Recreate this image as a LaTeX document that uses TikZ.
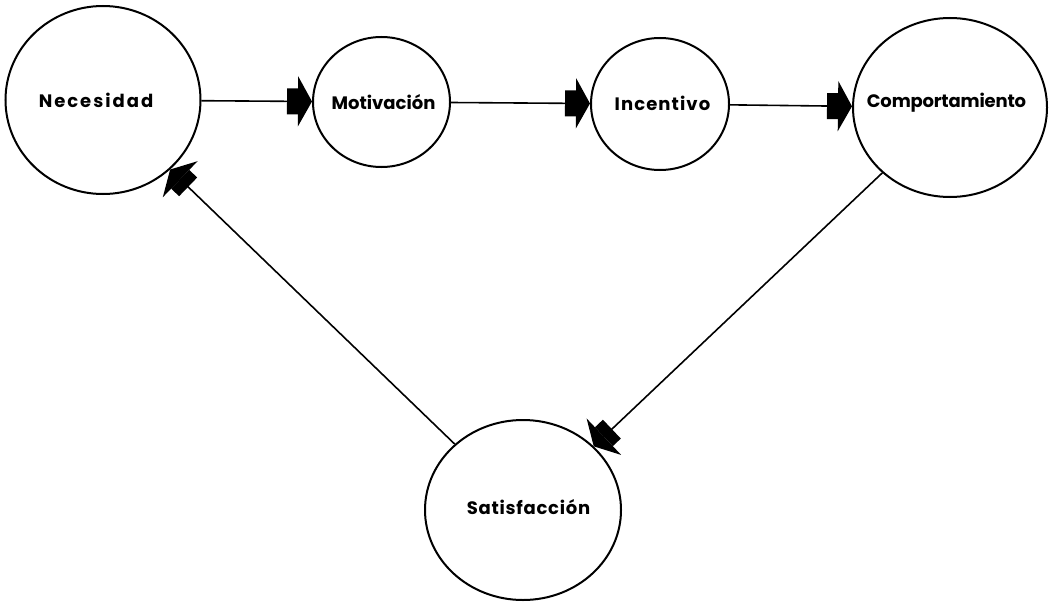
\documentclass[tikz,border=0pt]{standalone}
\usepackage{fontspec}
\setmainfont{Poppins}
\usetikzlibrary{shapes.geometric,arrows.meta}
\begin{document}
\begin{tikzpicture}[x=1pt,y=-1pt,
  bubble/.style n args={2}{draw,ellipse,line width=2pt,inner sep=0pt,minimum width=#1,minimum height=#2},
  lbl/.style={inner sep=0pt,font=\fontsize{18}{20}\selectfont\bfseries},
  flow/.style={line width=1.6pt,-{Rectangle[length=11pt,width=26pt,sep=0pt]Triangle[length=14pt,width=50pt]}}
]
\useasboundingbox (0,0) rectangle (1056,602);
\node[bubble={195pt}{188pt}] (nec) at (103,100) {};
\node[bubble={137pt}{130pt}] (mot) at (381.5,102) {};
\node[bubble={138pt}{132pt}] (inc) at (660,104) {};
\node[bubble={194pt}{179pt}] (comp) at (950,107.5) {};
\node[bubble={196pt}{180pt}] (sat) at (523,510) {};
\node[lbl] (tnec) at (96,100) {\addfontfeature{LetterSpace=11}Necesidad};
\node[lbl] (tmot) at (383.5,102) {Motivación};
\node[lbl] (tinc) at (662.5,103) {\addfontfeature{LetterSpace=6}Incentivo};
\node[lbl] (tcomp) at (946.5,103) {\addfontfeature{LetterSpace=-1}Comportamiento};
\node[lbl] (tsat) at (528.5,507) {\addfontfeature{LetterSpace=4}Satisfacción};
\draw[flow] (nec) -- (mot);
\draw[flow] (mot) -- (inc);
\draw[flow] (inc) -- (comp);
\draw[flow] (comp.224) -- (sat.42);
\draw[flow] (sat.136) -- (nec.-46);
\end{tikzpicture}
\end{document}
